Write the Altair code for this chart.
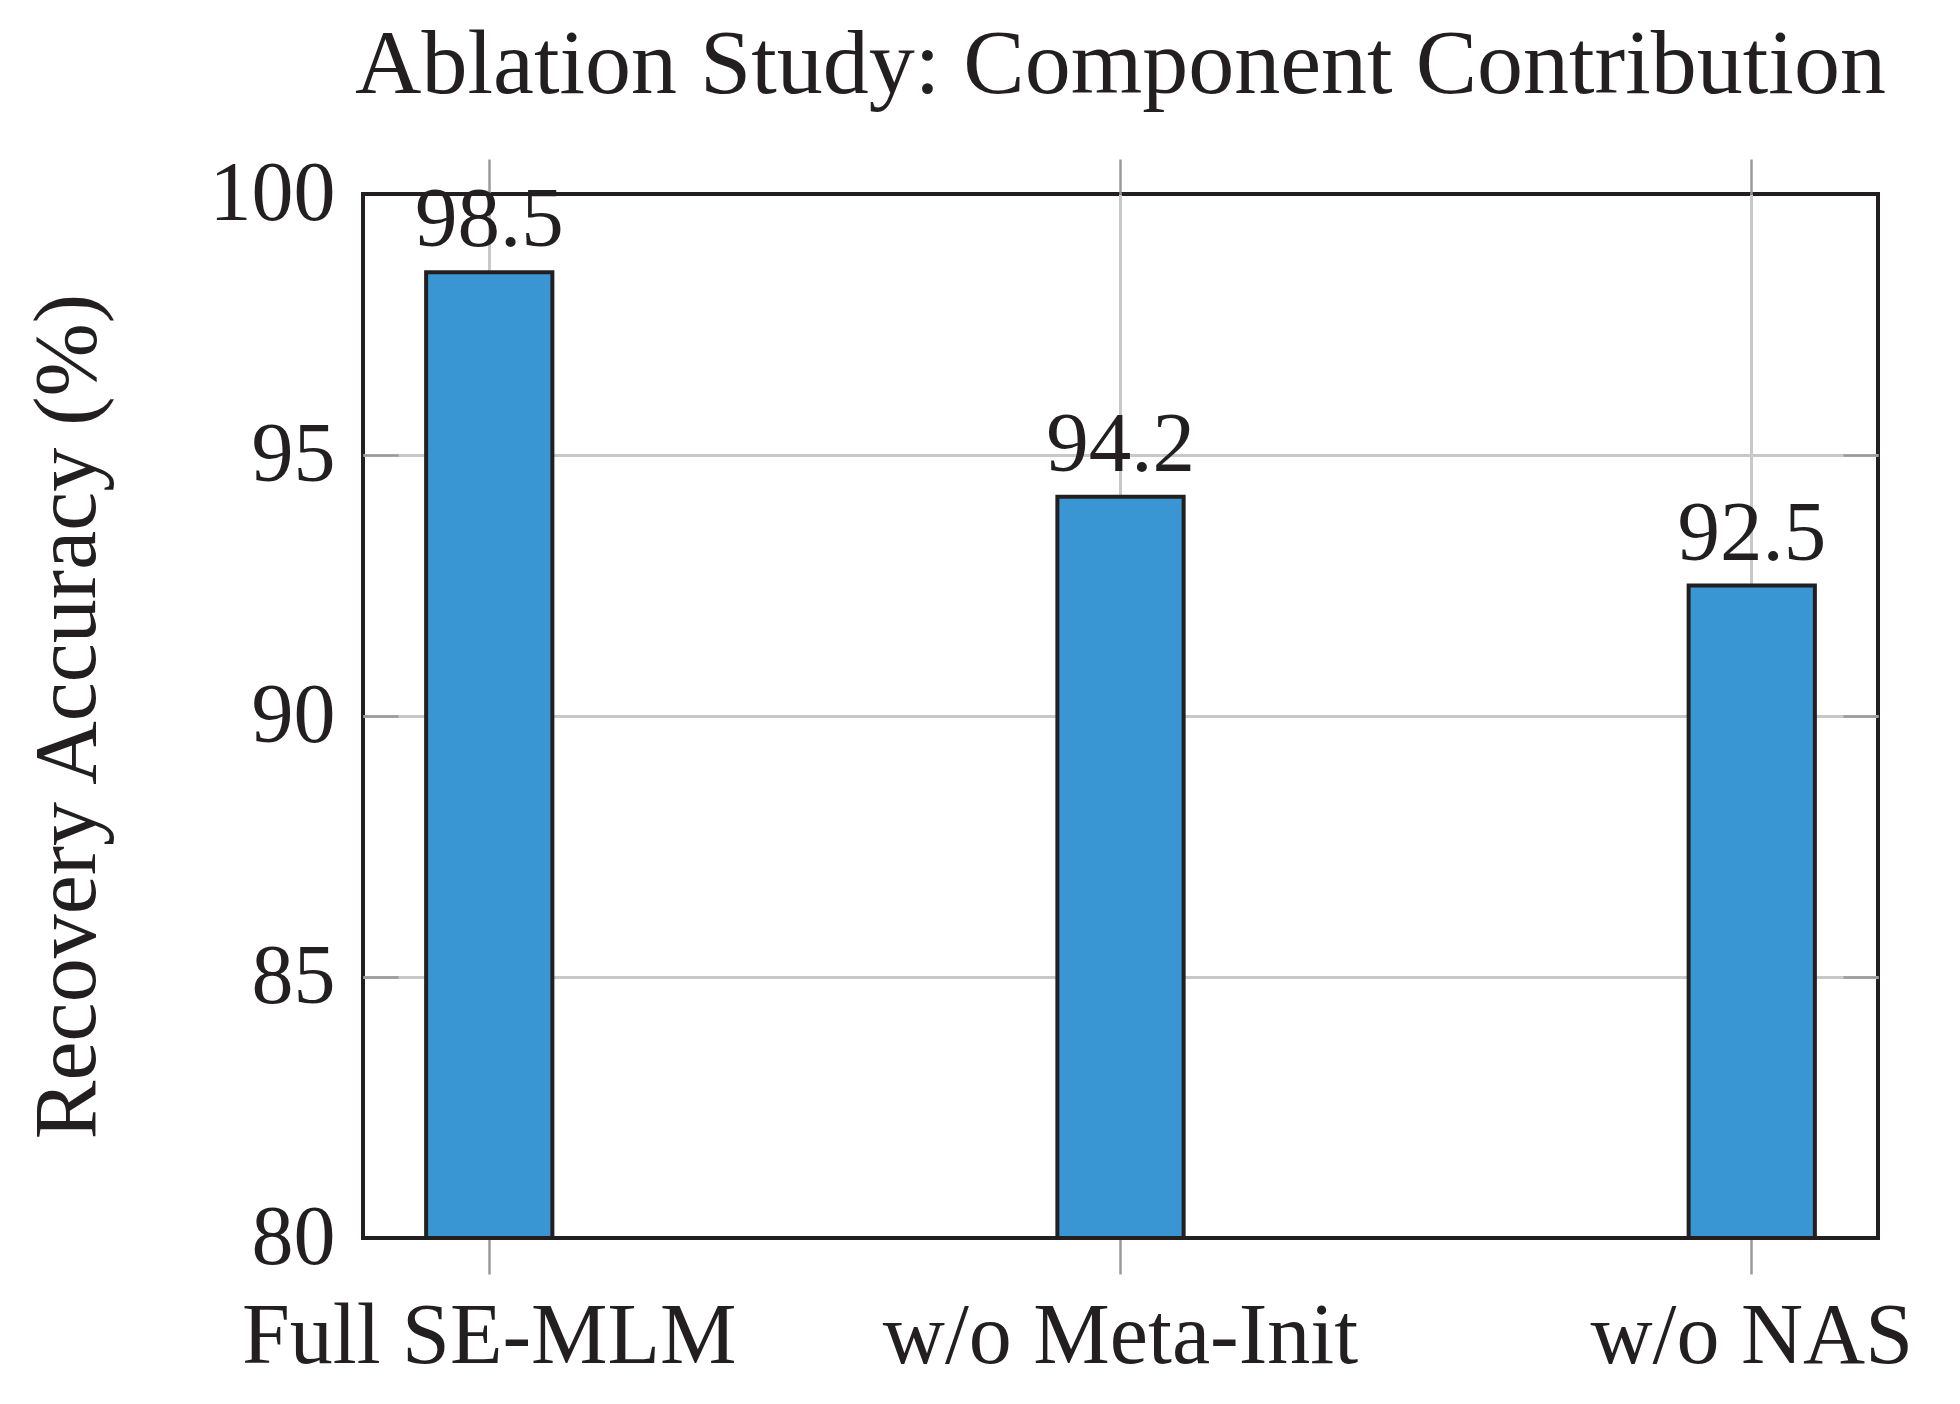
import altair as alt
import pandas as pd

# Ablation results: recovery accuracy (%) per model variant
variants = ["Full SE-MLM", "w/o Meta-Init", "w/o NAS"]
accuracy = [98.5, 94.2, 92.5]

y_ticks = [80, 85, 90, 95, 100]
Y_MIN, Y_MAX = 80, 100

df = pd.DataFrame({"variant": variants, "accuracy": accuracy})

FONT = "Liberation Serif"
INK = "#231f20"
BAR = "#3a96d2"
GRID = "#c8c8c8"
TICK = "#9a9a9a"

# hide grid lines / ticks that would sit on the frame at the domain ends
on_frame = f"datum.value == {Y_MIN} || datum.value == {Y_MAX}"
hide_on_frame = {"condition": {"test": on_frame, "value": 0}, "value": 1}

x_scale = alt.Scale(domain=variants, paddingInner=0.8, paddingOuter=0.1)
y_scale = alt.Scale(domain=[Y_MIN, Y_MAX], nice=False, zero=False)

base = alt.Chart(df)

# Bars with the bottom/left axes, grid lines and outward x ticks
bars = base.mark_bar(fill=BAR, stroke=INK, strokeWidth=4).encode(
    x=alt.X(
        "variant:N",
        scale=x_scale,
        sort=variants,
        axis=alt.Axis(
            orient="bottom",
            title=None,
            labelAngle=0,
            labelFont=FONT,
            labelFontSize=86,
            labelColor=INK,
            labelBaseline="alphabetic",
            labelPadding=88,
            labelLimit=0,
            tickSize=36,
            tickColor=TICK,
            tickWidth=2.5,
            bandPosition=0.5,
            grid=True,
            gridColor=GRID,
            gridWidth=3,
            domain=False,
        ),
    ),
    y=alt.Y(
        "accuracy:Q",
        scale=y_scale,
        axis=alt.Axis(
            orient="left",
            values=y_ticks,
            offset=-35,
            tickSize=35,
            tickColor=TICK,
            tickWidth=2.5,
            tickOpacity=hide_on_frame,
            labelFont=FONT,
            labelFontSize=84,
            labelColor=INK,
            labelPadding=28,
            grid=True,
            gridColor=GRID,
            gridWidth=3,
            gridOpacity=hide_on_frame,
            domain=False,
            title="Recovery Accuracy (%)",
            titleFont=FONT,
            titleFontSize=88,
            titleFontWeight="normal",
            titleColor=INK,
            titleX=-304,
            titleY=522,
            titleAlign="center",
            titleBaseline="alphabetic",
            titleAngle=270,
        ),
    ),
    y2=alt.datum(Y_MIN),
)

# Value labels above each bar, carrying the top/right tick marks
labels = base.mark_text(
    font=FONT, fontSize=85, color=INK, align="center", baseline="alphabetic", dy=-26
).encode(
    x=alt.X(
        "variant:N",
        scale=x_scale,
        sort=variants,
        axis=alt.Axis(
            orient="top",
            title=None,
            labels=False,
            tickSize=35,
            tickColor=TICK,
            tickWidth=2.5,
            bandPosition=0.5,
            grid=False,
            domain=False,
        ),
    ),
    y=alt.Y(
        "accuracy:Q",
        scale=y_scale,
        axis=alt.Axis(
            orient="right",
            values=y_ticks,
            offset=-35,
            tickSize=35,
            tickColor=TICK,
            tickWidth=2.5,
            tickOpacity=hide_on_frame,
            labels=False,
            grid=False,
            domain=False,
            title=None,
        ),
    ),
    text=alt.Text("accuracy:Q", format=".1f"),
)

chart = (
    alt.layer(bars, labels)
    .resolve_axis(x="independent", y="independent")
    .properties(
        width=1515,
        height=1044,
        background="white",
        title=alt.TitleParams(
            "Ablation Study: Component Contribution",
            font=FONT,
            fontSize=92,
            fontWeight="normal",
            color=INK,
            anchor="middle",
            baseline="alphabetic",
            offset=-33,
        ),
        autosize=alt.AutoSizeParams(type="none"),
        padding={"left": 363, "top": 194, "right": 82, "bottom": 166},
    )
    .configure_view(stroke=INK, strokeWidth=4)
)

chart.save("out.html", embed_options={"renderer": "svg", "actions": False})
